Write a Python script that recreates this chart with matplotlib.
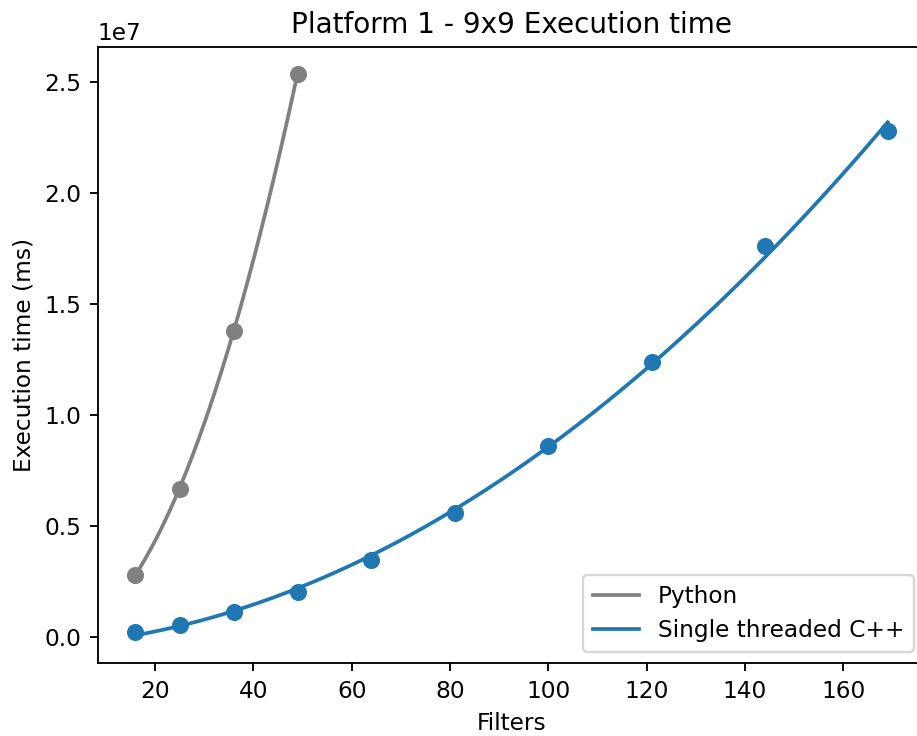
import numpy as np
import matplotlib
matplotlib.use("Agg")
import matplotlib.pyplot as plt

# filter counts and execution times (ms)
py_filters = [16, 25, 36, 49]
py_times = [2.78e6, 6.67e6, 13.78e6, 25.36e6]

cpp_filters = [16, 25, 36, 49, 64, 81, 100, 121, 144, 169]
cpp_times = [0.225e6, 0.54e6, 1.13e6, 2.03e6, 3.47e6, 5.59e6, 8.60e6, 12.36e6, 17.61e6, 22.8e6]

DPI = 167.5
fig = plt.figure(figsize=(917 / DPI, 736 / DPI), dpi=DPI)
# right spine falls just past the image edge, as in the original crop
ax = fig.add_axes([0.1065, 0.0988, 0.9025, 0.8378])

# quadratic fits for the curves
p_py = np.polyfit(py_filters, py_times, 2)
xs_py = np.linspace(min(py_filters), max(py_filters), 200)
p_cpp = np.polyfit(cpp_filters, cpp_times, 2)
xs_cpp = np.linspace(min(cpp_filters), max(cpp_filters), 300)

ax.scatter(py_filters, py_times, color="gray", s=40, zorder=3)
ax.plot(xs_py, np.polyval(p_py, xs_py), color="gray", lw=1.6, label="Python")
ax.scatter(cpp_filters, cpp_times, color="#1f77b4", s=40, zorder=3)
ax.plot(xs_cpp, np.polyval(p_cpp, xs_cpp), color="#1f77b4", lw=1.6, label="Single threaded C++")

ax.set_xlim(8.35, 176.65)
ax.set_ylim(-0.12e7, 2.658e7)
ax.set_title("Platform 1 - 9x9 Execution time")
ax.set_xlabel("Filters")
ax.set_ylabel("Execution time (ms)")
ax.legend(loc="lower right")

fig.savefig("out.png", dpi=DPI)
